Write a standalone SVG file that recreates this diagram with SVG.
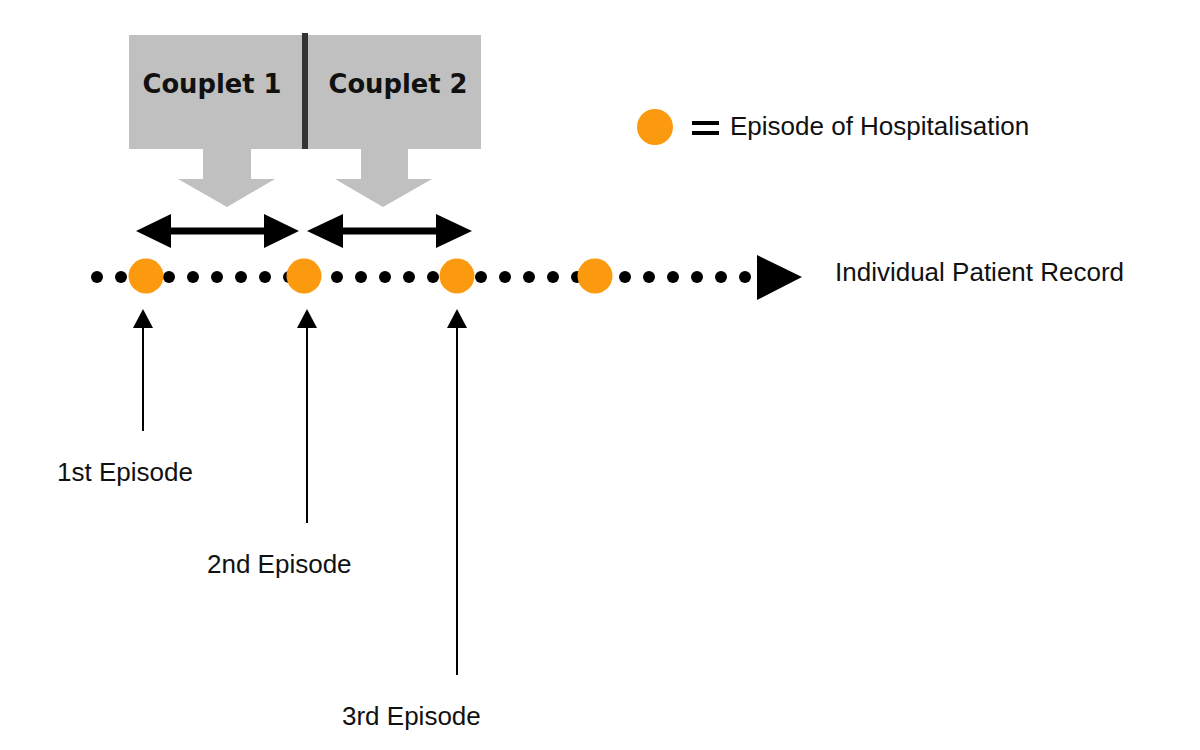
<svg xmlns="http://www.w3.org/2000/svg" width="1200" height="750" viewBox="0 0 1200 750">
  <defs>
    <style>
      .gray { fill: #c0c0c0; }
      .orange { fill: #fb9a0e; }
      .dot { fill: #000; }
      .lbl { font-family: "Liberation Sans", Arial, sans-serif; font-size: 26px; fill: #111; }
      .cp { font-family: "DejaVu Sans", Verdana, sans-serif; font-weight: bold; font-size: 25.8px; fill: #111; text-anchor: middle; }
      .stem { stroke: #000; stroke-width: 2; fill: none; }
      .head { fill: #000; }
    </style>
  </defs>
  <rect width="1200" height="750" fill="#fff"/>

  <g id="couplets">
    <rect class="gray" x="129" y="35" width="352" height="114"/>
    <polygon class="gray" points="203,149 251,149 251,179 275,179 227,207 178,179 203,179"/>
    <polygon class="gray" points="361,149 408,149 408,179 432,179 383,207 335,179 361,179"/>
    <rect x="302" y="33" width="6" height="116" fill="#333"/>
    <text class="cp" x="212" y="93">Couplet 1</text>
    <text class="cp" x="398" y="93">Couplet 2</text>
  </g>

  <g id="legend">
    <circle class="orange" cx="655" cy="127" r="18"/>
    <rect x="692" y="121" width="27" height="4" fill="#000"/>
    <rect x="692" y="131" width="27" height="4" fill="#000"/>
    <text class="lbl" x="730" y="135">Episode of Hospitalisation</text>
  </g>

  <g id="timeline">
    <g class="dot">
      <circle cx="97" cy="277" r="6"/><circle cx="121" cy="277" r="6"/><circle cx="145" cy="277" r="6"/>
      <circle cx="169" cy="277" r="6"/><circle cx="193" cy="277" r="6"/><circle cx="217" cy="277" r="6"/>
      <circle cx="241" cy="277" r="6"/><circle cx="265" cy="277" r="6"/><circle cx="289" cy="277" r="6"/>
      <circle cx="313" cy="277" r="6"/><circle cx="337" cy="277" r="6"/><circle cx="361" cy="277" r="6"/>
      <circle cx="385" cy="277" r="6"/><circle cx="409" cy="277" r="6"/><circle cx="433" cy="277" r="6"/>
      <circle cx="457" cy="277" r="6"/><circle cx="481" cy="277" r="6"/><circle cx="505" cy="277" r="6"/>
      <circle cx="529" cy="277" r="6"/><circle cx="553" cy="277" r="6"/><circle cx="577" cy="277" r="6"/>
      <circle cx="601" cy="277" r="6"/><circle cx="625" cy="277" r="6"/><circle cx="649" cy="277" r="6"/>
      <circle cx="673" cy="277" r="6"/><circle cx="697" cy="277" r="6"/><circle cx="721" cy="277" r="6"/>
      <circle cx="745" cy="277" r="6"/>
    </g>
    <polygon class="head" points="757,255 802,277 757,300"/>
    <text class="lbl" x="835" y="281">Individual Patient Record</text>
  </g>

  <g id="ep1"><circle class="orange" cx="146" cy="276" r="17.5"/></g>
  <g id="ep2"><circle class="orange" cx="304" cy="276" r="17.5"/></g>
  <g id="ep3"><circle class="orange" cx="457" cy="276" r="17.5"/></g>
  <g id="ep4"><circle class="orange" cx="595" cy="276" r="17.5"/></g>

  <g id="connectors">
    <polygon class="head" points="136,231 171,214 171,227.5 264,227.5 264,214 299,231 264,248 264,234.5 171,234.5 171,248"/>
    <polygon class="head" points="307,231 343,214 343,227.5 436,227.5 436,214 472,231 436,248 436,234.5 343,234.5 343,248"/>
    <line class="stem" x1="143" y1="326" x2="143" y2="431"/>
    <polygon class="head" points="133,328 153,328 143,309"/>
    <line class="stem" x1="307" y1="326" x2="307" y2="523"/>
    <polygon class="head" points="297,328 317,328 307,309"/>
    <line class="stem" x1="457" y1="326" x2="457" y2="675"/>
    <polygon class="head" points="447,328 467,328 457,309"/>
  </g>

  <g id="labels">
    <text class="lbl" x="57" y="481">1st Episode</text>
    <text class="lbl" x="207" y="573">2nd Episode</text>
    <text class="lbl" x="342" y="725">3rd Episode</text>
  </g>
</svg>
